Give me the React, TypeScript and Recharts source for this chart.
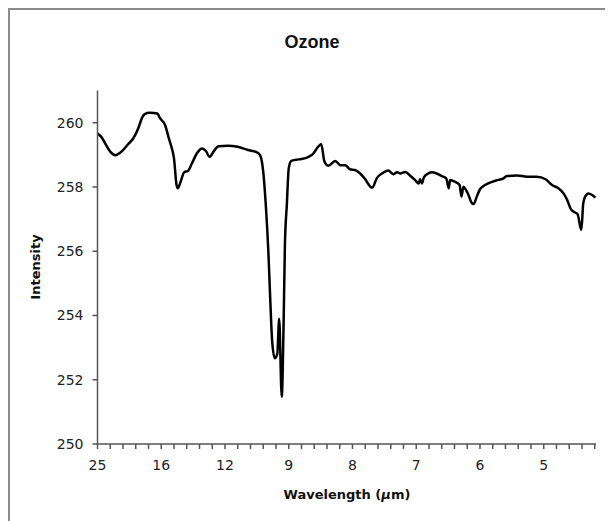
import { LineChart, Line, XAxis, YAxis } from 'recharts';

// sample position along the category axis (ticks every 10 samples)
const sampleIndex = [
  0, 3, 6, 10, 14, 16, 20, 24, 28, 32, 35, 37, 41, 47, 49, 53, 56, 58, 60, 62,
  63, 65, 68, 71, 74, 78, 82, 85, 88, 91, 95, 102, 110, 118, 125, 127.5, 130, 132, 134, 135.5,
  137, 139, 141, 142.5, 144.5, 146, 147, 148.5, 150, 152, 156, 160, 165.5, 169.5, 172, 175.5, 178, 181, 186.5, 190.5,
  194.5, 198, 202, 206, 210, 214, 215.5, 219, 224, 228, 232, 235, 237.5, 241.5, 245.5, 249, 252, 253, 254.5, 256,
  259.5, 262, 266, 270, 273.5, 275.5, 276.5, 280.5, 284, 285.5, 287, 289, 291, 293, 295, 297.5, 300, 304, 309.5, 314.5,
  318.5, 321, 329, 337, 344.5, 351.5, 356.5, 361.5, 365.5, 368.5, 371, 373.5, 376.5, 379.5, 381, 382.5, 385, 388, 390.5,
];

const intensity = [
  259.66, 259.56, 259.36, 259.1, 258.99, 259.02, 259.15, 259.33, 259.51, 259.83, 260.16, 260.27, 260.31, 260.29, 260.14, 259.93, 259.51, 259.25, 258.89, 258.06,
  257.96, 258.14, 258.46, 258.5, 258.73, 259.05, 259.2, 259.12, 258.94, 259.1, 259.27, 259.28, 259.25, 259.15, 259.08, 258.99, 258.47, 257.44, 256.0, 254.5,
  253.2, 252.67, 252.8, 253.9, 251.47, 253.8, 256.2, 257.44, 258.58, 258.81, 258.85, 258.87, 258.94, 259.05, 259.2, 259.33, 258.79, 258.66, 258.81, 258.68,
  258.68, 258.55, 258.53, 258.42, 258.24, 258.01, 257.98, 258.27, 258.44, 258.51, 258.4, 258.46, 258.42, 258.47, 258.34, 258.22, 258.11, 258.24, 258.11, 258.3,
  258.42, 258.46, 258.42, 258.34, 258.27, 257.96, 258.22, 258.16, 258.06, 257.7, 258.01, 257.91, 257.75, 257.54, 257.47, 257.7, 257.93, 258.06, 258.16, 258.22,
  258.27, 258.34, 258.36, 258.32, 258.32, 258.24, 258.06, 257.96, 257.8, 257.59, 257.33, 257.23, 257.16, 256.66, 257.49, 257.7, 257.8, 257.75, 257.67,
];

// wavelength labels shown every 5th tick
const wavelengthLabels: Record<number, string> = {
  0: '25', 50: '16', 100: '12', 150: '9', 200: '8', 250: '7', 300: '6', 350: '5',
};
const xTicks = Array.from({ length: 40 }, (_, i) => i * 10);
const yTicks = [250, 252, 254, 256, 258, 260];

const data = sampleIndex.map((s, i) => ({ s, v: intensity[i] }));

const tickFont = { fontFamily: 'DejaVu Sans', fontSize: 14, fill: '#222' };
const axisColor = '#555';

export default function App() {
  return (
    <div
      style={{
        position: 'relative',
        width: 603,
        height: 530,
        border: '2px solid #8c8c8c',
        boxSizing: 'border-box',
        background: '#fff',
      }}
    >
      <div
        style={{
          position: 'absolute',
          left: 0,
          width: 604,
          top: 22,
          textAlign: 'center',
          fontFamily: 'Liberation Sans',
          fontWeight: 'bold',
          fontSize: 18,
          lineHeight: '21px',
          color: '#111',
        }}
      >
        Ozone
      </div>
      <LineChart
        width={599}
        height={511}
        data={data}
        margin={{ top: 80.6, right: 13, left: 27.5, bottom: 37 }}
      >
        <XAxis
          dataKey="s"
          type="number"
          domain={[0, 391]}
          ticks={xTicks}
          interval={0}
          tickFormatter={(t: number) => wavelengthLabels[t] ?? ''}
          tick={tickFont}
          tickSize={5}
          tickMargin={11}
          height={40}
          stroke={axisColor}
          strokeWidth={1.5}
        />
        <YAxis
          domain={[250, 261]}
          ticks={yTicks}
          interval={0}
          tick={tickFont}
          tickSize={5}
          tickMargin={9}
          width={60}
          stroke={axisColor}
          strokeWidth={1.5}
          allowDataOverflow
        />
        <Line
          type="monotone"
          dataKey="v"
          stroke="#000"
          strokeWidth={2.5}
          dot={false}
          isAnimationActive={false}
        />
      </LineChart>
      <div
        style={{
          position: 'absolute',
          left: 237,
          width: 200,
          top: 477,
          textAlign: 'center',
          fontFamily: 'DejaVu Sans',
          fontWeight: 'bold',
          fontSize: 13,
          lineHeight: '16px',
          color: '#111',
        }}
      >
        Wavelength (<span style={{ fontStyle: 'italic' }}>μ</span>m)
      </div>
      <div
        style={{
          position: 'absolute',
          left: -24,
          width: 100,
          top: 249,
          height: 16,
          textAlign: 'center',
          fontFamily: 'DejaVu Sans',
          fontWeight: 'bold',
          fontSize: 13,
          lineHeight: '16px',
          color: '#111',
          transform: 'rotate(-90deg)',
        }}
      >
        Intensity
      </div>
    </div>
  );
}
